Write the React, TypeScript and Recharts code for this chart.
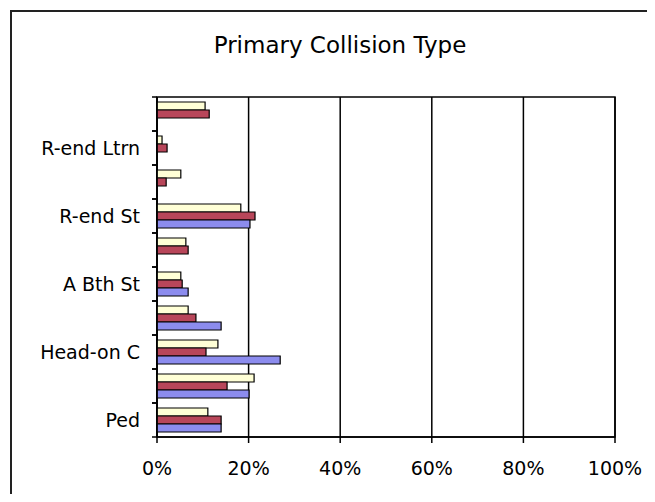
import React from 'react';
import { BarChart, Bar, XAxis, YAxis, CartesianGrid, ReferenceArea } from 'recharts';

// categories from bottom (index 0) to top; only every other one is labelled in the chart
const categories = ['Ped', 'Other', 'Head-on C', 'Sdswp', 'A Bth St', 'Brdsd', 'R-end St', 'Hit Obj', 'R-end Ltrn', 'R-end Rtrn'];
const labelledCategories = ['Ped', 'Head-on C', 'A Bth St', 'R-end St', 'R-end Ltrn'];
const series1 = [14.0, 20.1, 26.9, 14.0, 6.8, 0, 20.3, 0, 0, 0];
const series2 = [14.0, 15.3, 10.7, 8.5, 5.5, 6.8, 21.4, 2.0, 2.2, 11.4];
const series3 = [11.1, 21.2, 13.3, 6.8, 5.2, 6.3, 18.3, 5.2, 1.1, 10.5];
const xTicks = [0, 20, 40, 60, 80, 100];
const title = 'Primary Collision Type';

const data = categories.map((c, i) => ({ name: c, s1: series1[i], s2: series2[i], s3: series3[i] }));

const FONT = '"DejaVu Sans", Verdana, sans-serif';

const YTick = (props: any) => {
  const { x, y, payload } = props;
  const half = 17;
  const show = labelledCategories.includes(payload.value);
  return (
    <g>
      <line x1={x - 5} x2={x} y1={y - half} y2={y - half} stroke="#000" strokeWidth={1.5} />
      <line x1={x - 5} x2={x} y1={y + half} y2={y + half} stroke="#000" strokeWidth={1.5} />
      {show && (
        <text x={x - 17} y={y} dy="0.36em" textAnchor="end" fill="#000" fontSize={19} fontFamily={FONT}>
          {payload.value}
        </text>
      )}
    </g>
  );
};

export default function App() {
  return (
    <div style={{ position: 'relative', width: 655, height: 502, margin: -8, background: '#fff', overflow: 'hidden' }}>
      <div style={{ position: 'absolute', left: 10, top: 10, width: 640, height: 500, borderTop: '2px solid #222', borderLeft: '2px solid #222', borderRight: '1px solid #e4e4e4' }} />
      <div style={{ position: 'absolute', left: 0, top: 34, width: 680, textAlign: 'center', fontFamily: FONT, fontSize: 23, lineHeight: '23px', color: '#000' }}>
        {title}
      </div>
      <div style={{ position: 'absolute', left: 0, top: 0 }}>
        <BarChart
          width={655}
          height={502}
          data={data}
          layout="vertical"
          margin={{ top: 97, right: 40, bottom: 35, left: 0 }}
          barCategoryGap={5}
          barGap={0}
        >
          <CartesianGrid horizontal={false} vertical={true} stroke="#000" strokeWidth={1.5} />
          <ReferenceArea x1={0} x2={100} fill="none" fillOpacity={0} stroke="#000" strokeWidth={1.5} strokeOpacity={1} />
          <XAxis
            type="number"
            domain={[0, 100]}
            ticks={xTicks}
            tickFormatter={(v: number) => `${v}%`}
            axisLine={{ stroke: '#000', strokeWidth: 1.5 }}
            tickLine={{ stroke: '#000', strokeWidth: 1.5 }}
            tickSize={6}
            tickMargin={19}
            height={30}
            tick={{ fill: '#000', fontSize: 19, fontFamily: FONT }}
            interval={0}
          />
          <YAxis
            type="category"
            dataKey="name"
            reversed
            width={157}
            interval={0}
            tickSize={0}
            tickMargin={0}
            tickLine={false}
            axisLine={{ stroke: '#000', strokeWidth: 1.5 }}
            tick={<YTick />}
          />
          <Bar dataKey="s3" fill="#ffffd6" stroke="#000" strokeWidth={1.2} isAnimationActive={false} />
          <Bar dataKey="s2" fill="#b8465a" stroke="#000" strokeWidth={1.2} isAnimationActive={false} />
          <Bar dataKey="s1" fill="#8c8cee" stroke="#000" strokeWidth={1.2} isAnimationActive={false} />
        </BarChart>
      </div>
    </div>
  );
}
